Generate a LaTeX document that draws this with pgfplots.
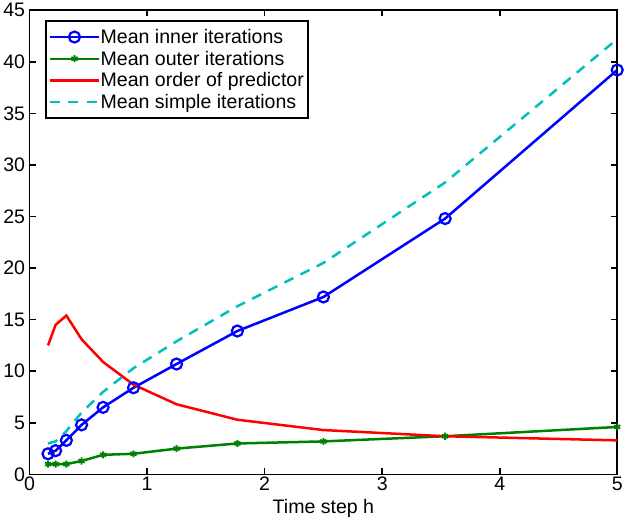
\documentclass[border=0pt]{standalone}
\usepackage{fontspec}
\setmainfont{Liberation Sans}
\usepackage{pgfplots}
\pgfplotsset{compat=1.18}
\definecolor{mblue}{RGB}{0,0,255}
\definecolor{mgreen}{RGB}{0,128,0}
\definecolor{mred}{RGB}{255,0,0}
\definecolor{mcyan}{RGB}{0,191,191}
\begin{document}
\begin{tikzpicture}
\begin{axis}[
  scale only axis,
  width=586pt, height=463pt,
  xmin=0, xmax=5, ymin=0, ymax=45,
  xtick={0,1,2,3,4,5},
  ytick={0,5,10,15,20,25,30,35,40,45},
  tick align=inside,
  major tick length=6pt,
  axis line style={line width=1.6pt},
  every tick/.style={line width=1.6pt, black},
  /pgf/number format/assume math mode=true,
  tick label style={font=\fontsize{19.5}{22}\selectfont},
  label style={font=\fontsize{19.5}{22}\selectfont},
  xlabel={Time step h},
  xlabel style={yshift=-2pt},
  y tick label style={xshift=-1pt},
  x tick label style={yshift=1pt},
  legend cell align=left,
  legend style={at={(axis description cs:0.027,0.978)}, anchor=north west,
    draw=black, line width=1.6pt, font=\fontsize{19.5}{23}\selectfont,
    inner xsep=3pt, inner ysep=7pt, row sep=4pt,
    nodes={inner sep=1pt, outer sep=0pt}},
  legend image code/.code={%
    \draw[line width=2.2pt, mark repeat=2, mark phase=2]
      plot coordinates {(0pt,0pt)(24pt,0pt)(48pt,0pt)};},
]
  \addplot[mblue, line width=2.5pt, mark=o, mark size=5.5pt,
    mark options={line width=2.2pt, solid}] coordinates {
    (0.15625,2.0)(0.2210,2.3)(0.3125,3.3)(0.4419,4.8)(0.625,6.5)
    (0.8839,8.4)(1.25,10.7)(1.7678,13.9)(2.5,17.2)(3.5355,24.8)(5,39.2)};
  \addlegendentry{Mean inner iterations}

  \addplot[mgreen, line width=2.5pt, mark=asterisk, mark size=3.5pt,
    mark options={line width=1.8pt, solid}] coordinates {
    (0.15625,1.0)(0.2210,1.0)(0.3125,1.0)(0.4419,1.3)(0.625,1.9)
    (0.8839,2.0)(1.25,2.5)(1.7678,3.0)(2.5,3.2)(3.5355,3.7)(5,4.6)};
  \addlegendentry{Mean outer iterations}

  \addplot[mred, line width=2.5pt] coordinates {
    (0.15625,12.5)(0.2210,14.5)(0.3125,15.4)(0.4419,13.1)(0.625,10.9)
    (0.8839,8.7)(1.25,6.8)(1.7678,5.3)(2.5,4.3)(3.5355,3.7)(5,3.3)};
  \addlegendentry{Mean order of predictor}

  \addplot[mcyan, line width=2.5pt, dash pattern=on 10pt off 8pt] coordinates {
    (0.15625,3.0)(0.2210,3.2)(0.3125,4.2)(0.4419,6.0)(0.625,8.0)
    (0.8839,10.3)(1.25,12.9)(1.7678,16.3)(2.5,20.5)(3.5355,28.3)(5,42.2)};
  \addlegendentry{Mean simple iterations}
\end{axis}
\end{tikzpicture}
\end{document}
